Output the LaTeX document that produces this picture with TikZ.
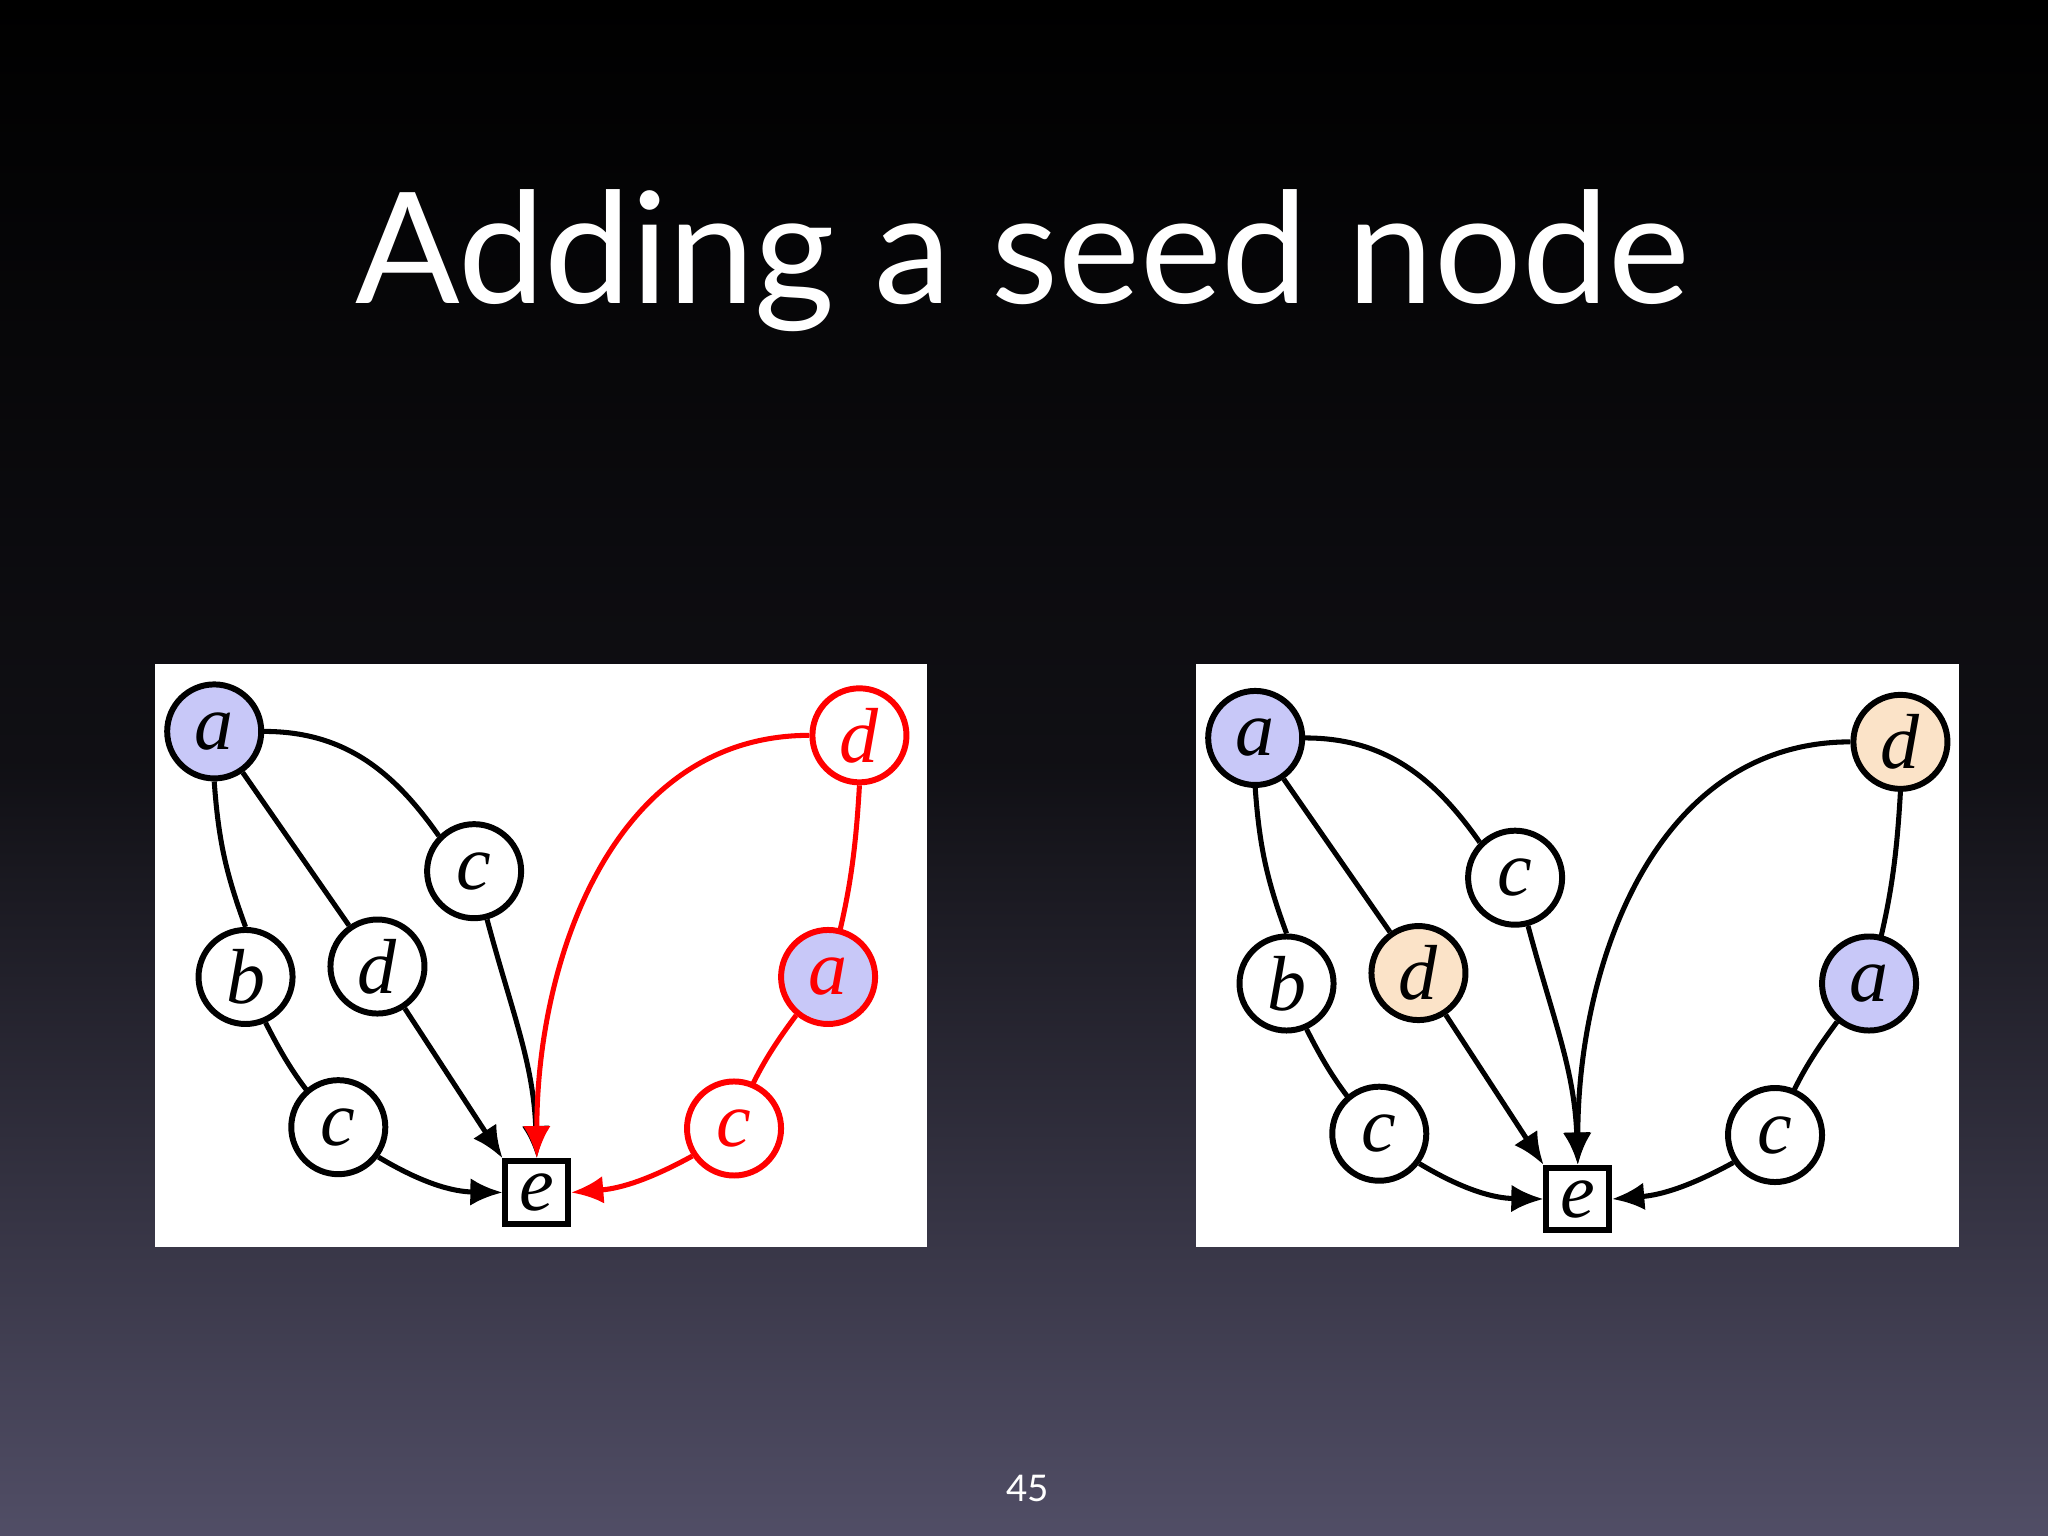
\documentclass[tikz,border=0pt]{standalone}
\usepackage{fontspec}
\newfontfamily\titlefont{Lato}
\newfontfamily\lblfont{Liberation Serif}
\usetikzlibrary{arrows.meta}
\pgfdeclarelayer{bg}
\pgfdeclarelayer{edgelayer}
\pgfsetlayers{bg,edgelayer,main}
\definecolor{bluefill}{HTML}{C8C8F8}
\definecolor{orfill}{HTML}{FBE3C8}
\definecolor{bgbot}{HTML}{514E66}
\tikzset{
 vtx/.style={circle,draw,line width=1.3pt,minimum size=0.72cm,inner sep=0pt,fill=white,font=\lblfont\itshape\fontsize{17}{17}\selectfont},
 sq/.style={rectangle,draw,line width=1.3pt,minimum size=0.48cm,inner sep=0pt,fill=white,font=\lblfont\itshape\fontsize{17}{17}\selectfont},
 ed/.style={line width=1.1pt},
 ar/.style={line width=1.1pt,-{Latex[length=7pt,width=6pt]}}
}
\newcommand{\drawpanel}[2]{%
 \node[vtx,fill=bluefill] (a) at (1.64,-5.60) {a};
 \node[vtx] (c1) at (3.63,-6.67) {c};
 \node[vtx] (b) at (1.88,-7.48) {b};
 \node[vtx,fill=#2] (d) at (2.89,-7.40) {d};
 \node[vtx] (c2) at (2.59,-8.63) {c};
 \node[sq] (e) at (4.11,-9.13) {e};
 \node[vtx,draw=#1,text=#1,fill=#2] (rd) at (6.58,-5.63) {d};
 \node[vtx,draw=#1,fill=bluefill,text=#1] (ra) at (6.34,-7.48) {a};
 \node[vtx,draw=#1,text=#1] (rc) at (5.62,-8.64) {c};
 \begin{pgfonlayer}{edgelayer}
 \draw[ed] (a.east) to[out=0,in=125] (c1.north west);
 \draw[ed] (a.south) to[bend right=8] (b.north);
 \draw[ed] (a) -- (d);
 \draw[ed] (b) to[bend right=8] (c2);
 \draw[ar] (d) -- (e.north west);
 \draw[ar] (c1) to[out=-75,in=92] (e.north);
 \draw[ar] (c2) to[bend right=15] (e.west);
 \draw[ar,draw=#1,-{Latex[length=7pt,width=6pt,color=#1]}] (rd.west) to[out=180,in=90] (e.north);
 \draw[ed,draw=#1] (rd.south) to[bend left=6] (ra);
 \draw[ed,draw=#1] (ra) to[bend right=8] (rc);
 \draw[ar,draw=#1,-{Latex[length=7pt,width=6pt,color=#1]}] (rc) to[bend left=12] (e.east);
 \end{pgfonlayer}
}
\begin{document}
\begin{tikzpicture}
\begin{pgfonlayer}{bg}
\shade[top color=black,bottom color=bgbot,middle color=black!80!bgbot] (0,0) rectangle (15.68,-11.76);
\fill[white] (1.19,-5.08) rectangle (7.10,-9.55);
\fill[white] (9.16,-5.08) rectangle (15.00,-9.55);
\end{pgfonlayer}
\useasboundingbox (0,0) rectangle (15.68,-11.76);
\node[text=white,font=\titlefont\fontsize{33.7}{34}\selectfont,anchor=base] (title) at (7.83,-2.32) {Adding a seed node};
\begin{scope}[name prefix=L-]
 \drawpanel{red}{white}
\end{scope}
\begin{scope}[name prefix=R-,shift={(7.97,-0.05)}]
 \drawpanel{black}{orfill}
\end{scope}
\node[text=white,font=\titlefont\fontsize{8}{8}\selectfont] (pg) at (7.87,-11.40) {45};
\end{tikzpicture}
\end{document}
